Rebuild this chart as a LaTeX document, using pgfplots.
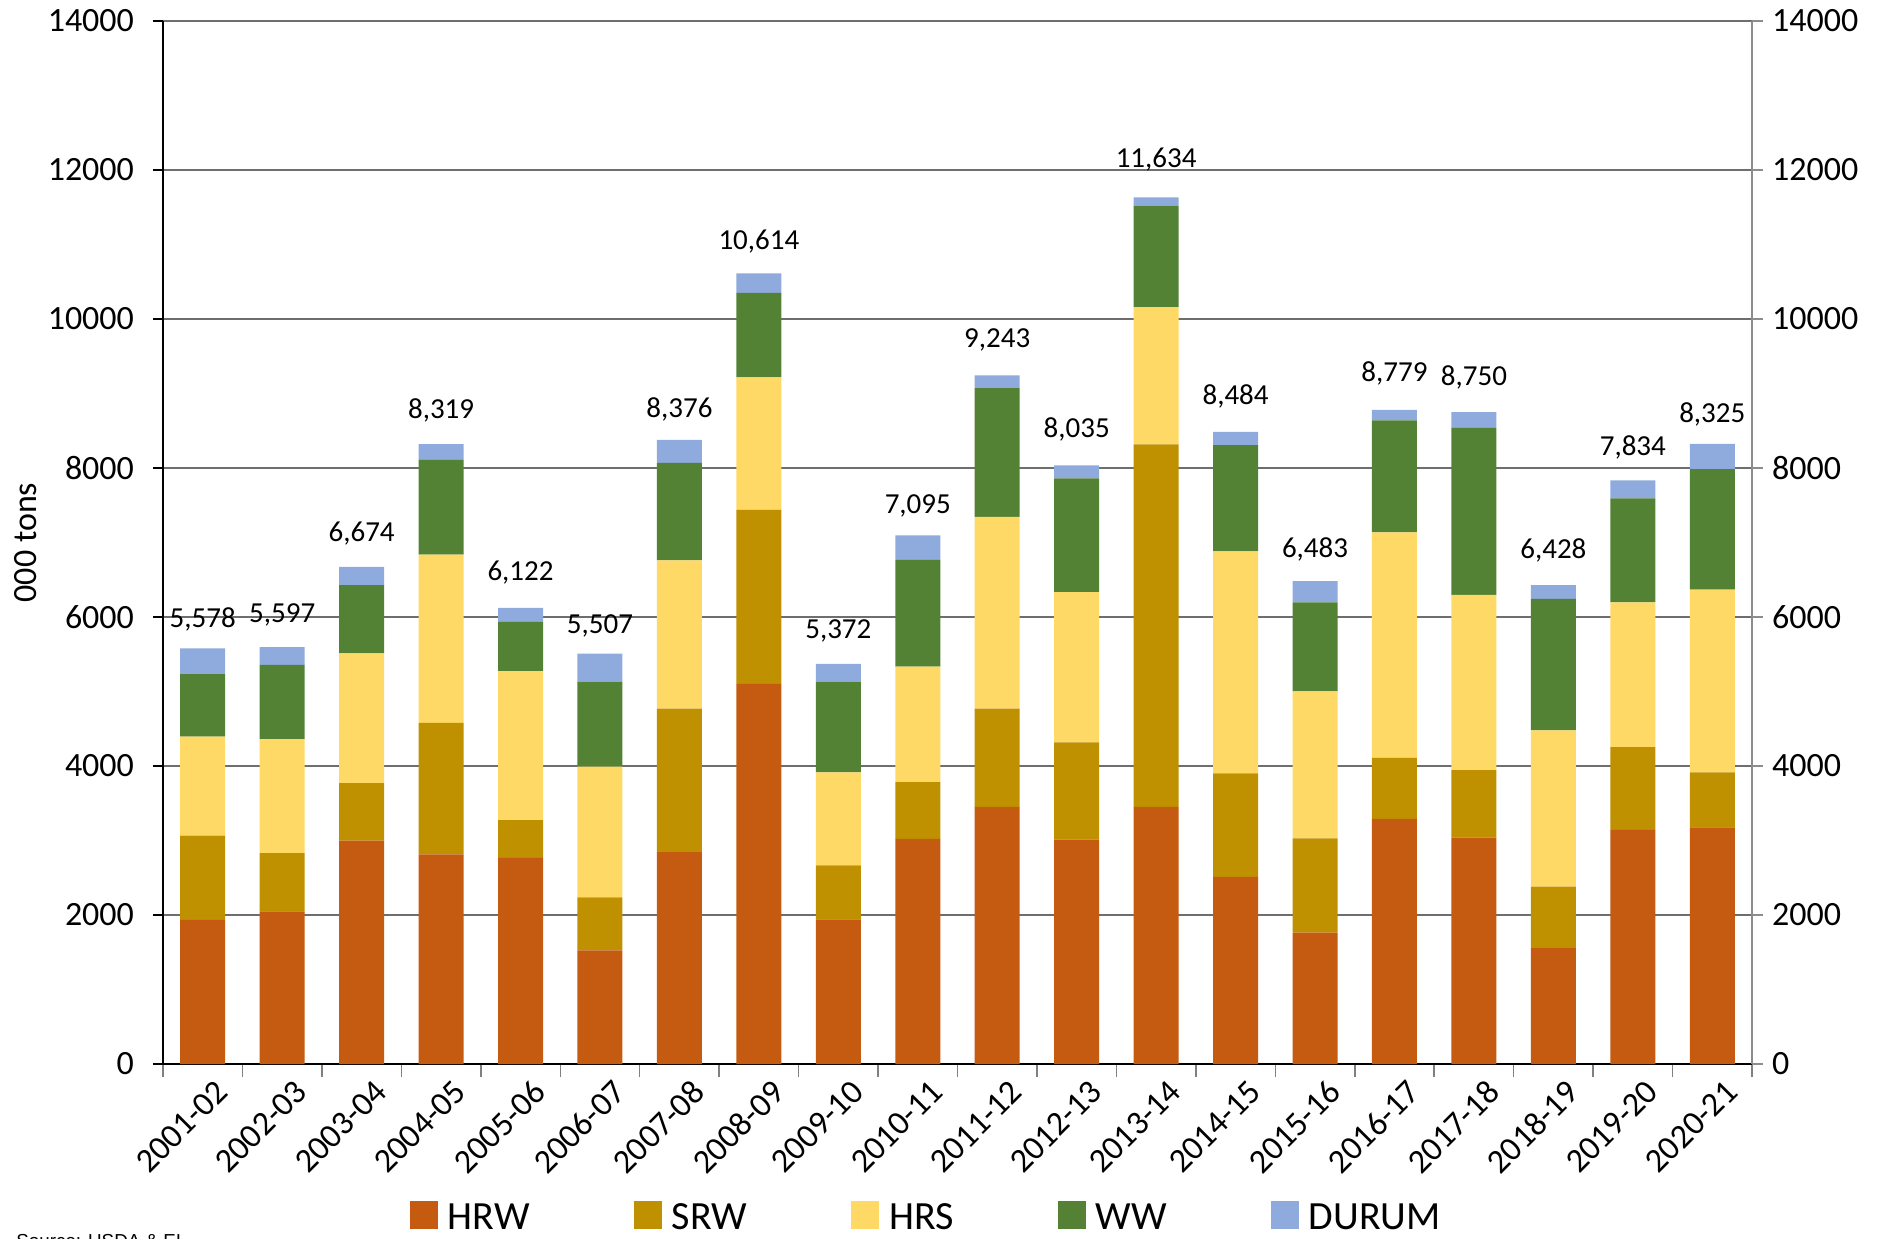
\documentclass[border=0pt]{standalone}
\usepackage{pgfplots}
\pgfplotsset{compat=1.18}
\usepackage{pgfplotstable}
\usepackage{fontspec}
\setmainfont{Carlito}
\newfontfamily\srcfont{Liberation Sans}

\definecolor{hrw}{HTML}{C55A11}
\definecolor{srw}{HTML}{BF9000}
\definecolor{hrs}{HTML}{FFD966}
\definecolor{ww}{HTML}{548235}
\definecolor{dur}{HTML}{8FAADC}
\definecolor{gridgray}{HTML}{6E6E6E}
\definecolor{rightgray}{HTML}{8C8C8C}

% 000 tons per class, one row per marketing year
\pgfplotstableread{
x HRW SRW HRS WW DUR label
0 1934 1133 1326 840 345 5,578
1 2050 779 1533 994 241 5,597
2 2998 771 1742 917 246 6,674
3 2813 1765 2258 1272 211 8,319
4 2767 508 1997 662 188 6,122
5 1526 709 1757 1141 374 5,507
6 2844 1927 1988 1310 307 8,376
7 5102 2335 1781 1132 264 10,614
8 1942 725 1248 1218 239 5,372
9 3021 763 1549 1434 328 7,095
10 3453 1318 2574 1726 172 9,243
11 3013 1303 2019 1526 174 8,035
12 3453 4863 1842 1364 112 11,634
13 2513 1387 2982 1426 176 8,484
14 1765 1264 1973 1194 287 6,483
15 3291 817 3029 1503 139 8,779
16 3037 909 2351 2242 211 8,750
17 1557 824 2097 1765 185 6,428
18 3144 1110 1942 1395 243 7,834
19 3175 740 2451 1619 340 8,325
}\wheat

\begin{document}
\begin{tikzpicture}
\path[use as bounding box] (0,0) rectangle (942.5pt,619pt);

\begin{axis}[
    at={(81.5pt,87pt)}, anchor=south west,
    scale only axis, width=794.5pt, height=521.5pt,
    ybar stacked, bar width=22.5pt,
    xmin=-0.5, xmax=19.5, ymin=0, ymax=14000,
    axis x line*=bottom, axis y line*=left,
    axis line style={black, line width=0.75pt},
    tick align=outside,
    xtick={0,...,19},
    xticklabels={2001-02,2002-03,2003-04,2004-05,2005-06,2006-07,2007-08,2008-09,2009-10,2010-11,2011-12,2012-13,2013-14,2014-15,2015-16,2016-17,2017-18,2018-19,2019-20,2020-21},
    minor xtick={-0.5,0.5,...,19.5},
    major x tick style={draw=none},
    minor x tick style={gray, line width=0.75pt},
    minor tick length=6.5pt,
    ytick={0,2000,...,14000},
    ytick style={black, line width=0.6pt},
    major tick length=5pt,
    scaled y ticks=false,
    ymajorgrids,
    grid style={gridgray, line width=0.6pt},
    yticklabel style={font=\fontsize{17}{20}\selectfont, xshift=-6pt,
        /pgf/number format/assume math mode=true,
        /pgf/number format/1000 sep={}},
    xticklabel style={font=\fontsize{17}{20}\selectfont, rotate=45,
        anchor=north east, xshift=6pt, yshift=-2pt},
    ylabel={000 tons},
    every axis y label/.style={at={(axis description cs:-0.0862,0.5)},
        rotate=90, anchor=center, font=\fontsize{17}{20}\selectfont},
    every node near coord/.append style={anchor=base, yshift=17pt,
        font=\fontsize{14.5}{16}\selectfont, black},
    legend columns=5,
    legend style={at={(axis description cs:0.481,-0.148)}, anchor=center,
        draw=none, inner sep=0pt, font=\fontsize{20}{23}\selectfont,
        /tikz/every odd column/.append style={column sep=3pt},
        /tikz/every even column/.append style={column sep=50pt}},
    legend image code/.code={\fill[#1] (0pt,-5.25pt) rectangle (14pt,8.75pt);},
]
\addplot[fill=hrw, draw=none] table[x=x, y=HRW] {\wheat};
\addplot[fill=srw, draw=none] table[x=x, y=SRW] {\wheat};
\addplot[fill=hrs, draw=none] table[x=x, y=HRS] {\wheat};
\addplot[fill=ww, draw=none] table[x=x, y=WW] {\wheat};
\addplot[fill=dur, draw=none,
    point meta=explicit symbolic,
    nodes near coords]
    table[x=x, y=DUR, meta=label] {\wheat};
\legend{HRW,SRW,HRS,WW,DURUM}
\end{axis}

\begin{axis}[
    at={(81.5pt,87pt)}, anchor=south west,
    scale only axis, width=794.5pt, height=521.5pt,
    xmin=-0.5, xmax=19.5, ymin=0, ymax=14000,
    hide x axis, axis y line*=right,
    y axis line style={draw=rightgray, line width=1pt},
    tick align=outside, major tick length=5.5pt,
    ytick={0,2000,...,14000},
    ytick style={draw=rightgray, line width=0.75pt},
    scaled y ticks=false,
    yticklabel style={font=\fontsize{17}{20}\selectfont, xshift=1pt,
        /pgf/number format/assume math mode=true,
        /pgf/number format/1000 sep={}},
]
\end{axis}

\node[anchor=base west, inner sep=0pt, font=\srcfont\fontsize{9.4}{11}\selectfont]
    at (8pt,-4.7pt) {Source: USDA \& EI};
\end{tikzpicture}
\end{document}
